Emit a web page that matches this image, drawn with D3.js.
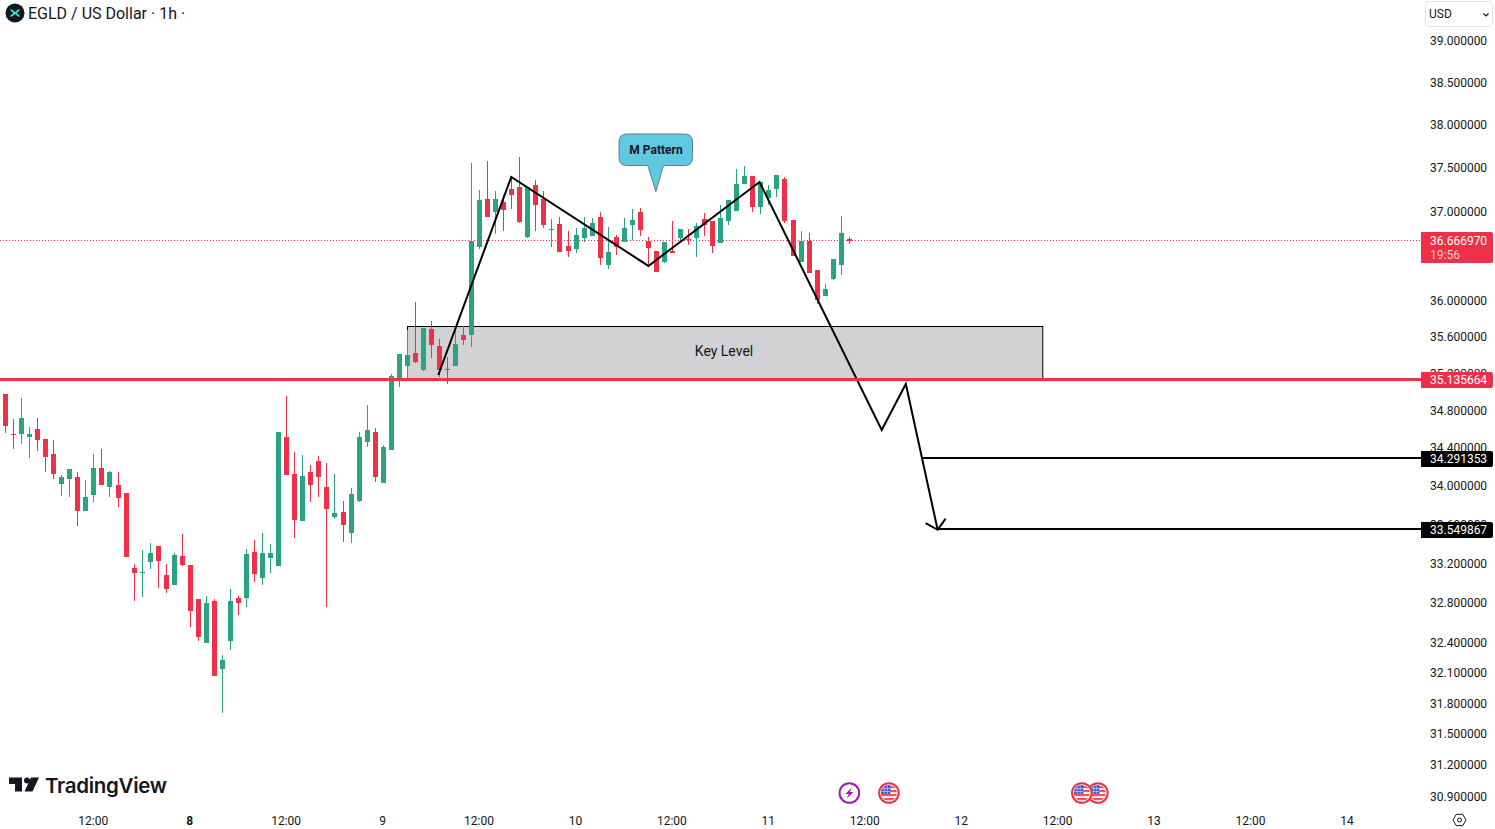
<!DOCTYPE html>
<html><head><meta charset="utf-8">
<style>
html,body{margin:0;padding:0;background:#fff;overflow:hidden}
svg{display:block;font-family:Roboto,sans-serif}
text{fill:#131722}
</style>
<script src="https://cdnjs.cloudflare.com/ajax/libs/d3/7.8.5/d3.min.js"></script>
</head><body><div id="chart"></div>
<script>
const opens=[34.98,34.555,34.555,34.523,34.608,34.502,34.343,34.027,34.079,34.10,33.745,33.911,34.195,33.996,34.017,33.932,33.158,33.106,33.219,33.383,33.086,32.984,33.281,33.189,32.843,32.401,32.823,32.143,32.421,32.853,32.853,33.321,33.055,33.26,33.178,34.523,34.132,33.642,34.153,34.269,33.996,33.683,33.734,33.517,33.849,34.47,34.576,34.038,34.385,35.156,35.286,35.427,35.242,35.69,35.504,35.253,35.286,35.624,35.624,36.603,37.147,36.999,37.113,37.262,37.285,36.716,37.308,37.147,36.795,36.863,36.614,36.58,36.705,36.727,36.942,36.401,36.716,36.659,36.851,36.999,36.671,36.558,36.435,36.558,36.705,36.693,36.705,36.919,36.897,36.648,36.897,37.011,37.32,37.412,37.056,37.159,37.262,37.377,36.908,36.435,36.671,36.345,36.054,36.244,36.401,36.693];
const highs=[34.98,34.715,34.94,34.629,34.725,34.502,34.491,34.122,34.185,34.153,34.069,34.343,34.396,34.164,34.153,33.932,33.199,33.342,33.414,33.383,33.199,33.311,33.507,33.189,32.843,32.873,32.843,32.282,32.944,32.873,33.352,33.445,33.517,33.404,34.576,34.961,34.364,34.332,34.227,34.321,34.248,34.132,33.849,33.985,34.576,34.865,34.618,34.438,35.199,35.416,35.679,35.988,35.701,35.778,35.581,35.384,35.679,35.723,37.562,37.251,37.585,37.24,37.193,37.40,37.631,37.285,37.366,37.24,36.919,36.942,36.784,36.818,36.942,36.931,36.999,36.829,36.739,36.931,37.033,37.045,36.716,36.558,36.659,36.897,36.806,36.806,36.874,36.988,36.897,37.079,37.136,37.493,37.527,37.412,37.343,37.308,37.423,37.40,36.908,36.784,36.761,36.345,36.188,36.468,36.953,36.716];
const lows=[34.565,34.396,34.449,34.30,34.374,34.153,34.079,33.901,33.89,33.589,33.745,33.838,34.017,33.89,33.786,33.271,32.823,32.863,33.148,32.954,32.904,32.984,33.178,32.561,32.421,32.401,32.074,31.71,32.331,32.681,32.762,33.015,32.984,33.106,33.178,34.122,33.466,33.642,33.838,33.89,32.762,33.662,33.424,33.414,33.838,34.417,34.048,34.038,34.385,35.059,35.156,35.318,35.231,35.373,35.166,35.091,35.286,35.515,35.493,36.58,36.942,36.75,36.784,37.033,36.874,36.705,36.784,36.818,36.603,36.547,36.491,36.535,36.659,36.727,36.401,36.356,36.513,36.659,36.682,36.727,36.39,36.323,36.423,36.535,36.659,36.625,36.491,36.727,36.535,36.648,36.851,37.011,37.32,36.999,36.976,37.079,37.17,36.874,36.502,36.435,36.312,35.966,36.054,36.233,36.289,36.637];
const closes=[34.64,34.544,34.725,34.555,34.491,34.311,34.132,34.10,34.185,33.745,33.89,34.195,34.017,34.153,33.88,33.271,33.106,33.117,33.311,33.23,32.944,33.291,33.189,32.722,32.461,32.803,32.074,32.232,32.823,32.803,33.301,33.096,33.311,33.311,34.576,34.122,33.652,34.111,34.017,34.10,33.765,33.724,33.60,33.922,34.523,34.597,34.10,34.417,35.177,35.416,35.405,35.329,35.701,35.515,35.242,35.242,35.526,35.57,36.671,37.136,36.942,37.147,37.022,37.193,36.885,37.285,37.079,36.851,36.806,36.547,36.558,36.739,36.818,36.874,36.479,36.547,36.603,36.818,36.908,36.795,36.591,36.323,36.659,36.535,36.806,36.682,36.84,36.851,36.614,36.931,37.136,37.32,37.412,37.056,37.343,37.251,37.423,36.897,36.502,36.671,36.312,36.01,36.132,36.468,36.761,36.667];

const priceTicks=[39,38.5,38,37.5,37,36,35.6,35.2,34.8,34.4,34,33.6,33.2,32.8,32.4,32.1,31.8,31.5,31.2,30.9];
const timeTickHours=[11,23,35,47,59,71,83,95,107,119,131,143,155,167];
const timeTickLabels=["12:00","8","12:00","9","12:00","10","12:00","11","12:00","12","12:00","13","12:00","14"];

const pathHours=[53.92,63,80.07,93.9,109.1,112.1,116.06];
const pathPrices=[35.188,37.40,36.39,37.343,34.597,35.091,33.55];
const arrowHours=[114.57,116.06,117.05];
const arrowPrices=[33.62,33.55,33.665];

const lastPrice=36.66697, keyLevel=35.135664;
const targetPrices=[34.291353,33.549867];
const targetStartHours=[114.0,116.06];
const boxHours=[50.02,129.08];
const boxPrices=[35.72,35.135664];
const eventFlash=[105];
const eventFlags=[136,134,110];
const countdown="19:56";

const W=1495,H=829,GREEN="#2aa382",RED="#ee3049",AXR=1421;
const x=d3.scaleLinear().domain([0,167]).range([5,1347]);
const y=d3.scaleLog().domain([30.9,39]).range([797,41]);
const svg=d3.select("#chart").append("svg").attr("width",W).attr("height",H);
const defs=svg.append("defs");
defs.append("clipPath").attr("id","flagclip").append("circle").attr("r",8);

// last price dotted line
svg.append("line").attr("x1",0).attr("x2",AXR).attr("y1",240.5).attr("y2",240.5)
 .attr("stroke",RED).attr("stroke-width",1).attr("stroke-dasharray","1 2");

// key level box
svg.append("rect").attr("x",Math.round(x(boxHours[0]))+.5).attr("y",Math.round(y(boxPrices[0]))+.5)
 .attr("width",x(boxHours[1])-x(boxHours[0])).attr("height",Math.round(y(boxPrices[1]))-Math.round(y(boxPrices[0]))-1.5)
 .attr("fill","#d2d2d5").attr("stroke","#000").attr("stroke-width",1);

// candles
const idx=d3.range(opens.length);
const cx=i=>Math.round(x(i));
const cg=svg.append("g");
cg.selectAll(".w").data(idx).join("rect").attr("class","w")
 .attr("x",cx).attr("width",1)
 .attr("y",i=>Math.round(y(highs[i])))
 .attr("height",i=>Math.max(1,Math.round(y(lows[i]))-Math.round(y(highs[i]))))
 .attr("fill",i=>closes[i]>=opens[i]?GREEN:RED);
cg.selectAll(".b").data(idx).join("rect").attr("class","b")
 .attr("x",i=>cx(i)-2).attr("width",5)
 .attr("y",i=>Math.round(y(Math.max(opens[i],closes[i]))))
 .attr("height",i=>Math.max(1,Math.round(y(Math.min(opens[i],closes[i])))-Math.round(y(Math.max(opens[i],closes[i])))))
 .attr("fill",i=>closes[i]>=opens[i]?GREEN:RED);

svg.append("text").attr("x",724).attr("y",351).attr("text-anchor","middle").attr("dominant-baseline","central")
 .attr("font-size",14).text("Key Level");

// hand-drawn path
const ln=d3.line().x(d=>x(d[0])).y(d=>y(d[1]));
svg.append("path").attr("d",ln(pathHours.map((h,i)=>[h,pathPrices[i]])))
 .attr("fill","none").attr("stroke","#000").attr("stroke-width",2).attr("stroke-linejoin","miter");
svg.append("path").attr("d",ln(arrowHours.map((h,i)=>[h,arrowPrices[i]])))
 .attr("fill","none").attr("stroke","#000").attr("stroke-width",2);

// target lines
targetPrices.forEach((p,i)=>{
 svg.append("line").attr("x1",x(targetStartHours[i])).attr("x2",AXR)
  .attr("y1",Math.round(y(p))-1).attr("y2",Math.round(y(p))-1).attr("stroke","#000").attr("stroke-width",2);
});
// key level line
svg.append("line").attr("x1",0).attr("x2",AXR).attr("y1",Math.round(y(keyLevel))-.5).attr("y2",Math.round(y(keyLevel))-.5)
 .attr("stroke",RED).attr("stroke-width",3);

// balloon
const bx0=619,bx1=692.5,by0=134,by1=165.5,r=8;
svg.append("path").attr("d",`M${bx0+r},${by0}H${bx1-r}Q${bx1},${by0} ${bx1},${by0+r}V${by1-r}Q${bx1},${by1} ${bx1-r},${by1}H663.5L655.8,191.5L647.8,${by1}H${bx0+r}Q${bx0},${by1} ${bx0},${by1-r}V${by0+r}Q${bx0},${by0} ${bx0+r},${by0}Z`)
 .attr("fill","#5fc9e3").attr("stroke","#5f7f90").attr("stroke-width",1);
svg.append("text").attr("x",656).attr("y",150).attr("text-anchor","middle").attr("dominant-baseline","central")
 .attr("font-size",12).attr("font-weight",700).text("M Pattern");

// axes
const yAxis=d3.axisRight(y).tickValues(priceTicks).tickSize(0).tickPadding(9).tickFormat(d=>d.toFixed(6));
const ya=svg.append("g").attr("transform",`translate(${AXR},-0.6)`).call(yAxis);
ya.select(".domain").remove();
ya.selectAll("text").attr("font-size",12).attr("font-family","Roboto").style("fill","#131722");

const xAxis=d3.axisBottom(x).tickValues(timeTickHours).tickSize(0).tickPadding(0)
 .tickFormat((d,i)=>timeTickLabels[i]);
const xa=svg.append("g").attr("transform","translate(-0.6,816)").call(xAxis);
xa.select(".domain").remove();
xa.selectAll("text").attr("font-size",12).attr("font-family","Roboto").style("fill","#131722")
 .attr("font-weight",d=>d===23?700:400);

// price badges
function badge(p,fill,hh){
 const yy=Math.round(y(p));
 const top=yy-8;
 svg.append("path").attr("d",`M${AXR},${top}H1491a2,2 0 0 1 2,2V${top+hh-2}a2,2 0 0 1 -2,2H${AXR}Z`).attr("fill",fill);
 svg.append("text").attr("x",1430).attr("y",yy).attr("dominant-baseline","central")
  .attr("font-size",12).style("fill","#fff").text(p.toFixed(6));
}
badge(keyLevel,RED,16);
badge(targetPrices[0],"#000",16);
badge(targetPrices[1],"#000",16);
svg.append("path").attr("d",`M${AXR},232H1491a2,2 0 0 1 2,2V261a2,2 0 0 1 -2,2H${AXR}Z`).attr("fill",RED);
svg.append("text").attr("x",1430).attr("y",241).attr("dominant-baseline","central").attr("font-size",12).style("fill","#fff").text(lastPrice.toFixed(6));
svg.append("text").attr("x",1430).attr("y",255).attr("dominant-baseline","central").attr("font-size",12).style("fill","#fbc2c9").text(countdown);

// header
svg.append("circle").attr("cx",15).attr("cy",13).attr("r",9.5).attr("fill","#131722");
svg.append("path").attr("d","M9.5,9.5L12,9.5L15,12L18,9.5L20.5,9.5L16.7,13L20.5,16.5L18,16.5L15,14L12,16.5L9.5,16.5L13.3,13Z").attr("fill","#23f0d6");
svg.append("text").attr("x",28).attr("y",13).attr("dominant-baseline","central").attr("font-size",16).text("EGLD / US Dollar · 1h ·");

// currency select
svg.append("rect").attr("x",1425.5).attr("y",1.5).attr("width",67).attr("height",25).attr("rx",4).attr("fill","#fff").attr("stroke","#e0e3eb");
svg.append("text").attr("x",1429).attr("y",14).attr("dominant-baseline","central").attr("font-size",12).text("USD");
svg.append("path").attr("d","M1483.5,13.5L1486,16L1488.5,13.5").attr("fill","none").attr("stroke","#131722").attr("stroke-width",1.2);

// TradingView logo
const lg=svg.append("g").attr("fill","#131722");
lg.append("path").attr("d","M9,777.5H22V791.5H15V784H9Z");
lg.append("circle").attr("cx",27).attr("cy",780.5).attr("r",3);
lg.append("path").attr("d","M31,777.5H39L32.5,791.5H24.5Z");
svg.append("text").attr("x",45).attr("y",785).attr("dominant-baseline","central").attr("font-family","Inter,Roboto").attr("font-weight",600).attr("font-size",20.5).attr("letter-spacing",-.3).text("TradingView");

// event markers
eventFlash.forEach(h=>{
 const g=svg.append("g").attr("transform",`translate(${x(h)+.6},793)`);
 g.append("circle").attr("r",9.8).attr("fill","#fff").attr("stroke","#9c1ab1").attr("stroke-width",2);
 g.append("path").attr("d","M2.5,-5.5L-4,1H-0.5L-2.5,5.5L4,-1H0.5Z").attr("fill","#9c1ab1");
});
eventFlags.forEach(h=>{
 const g=svg.append("g").attr("transform",`translate(${x(h)},793)`);
 g.append("circle").attr("r",9.8).attr("fill","#fff").attr("stroke",RED).attr("stroke-width",2);
 const f=g.append("g").attr("clip-path","url(#flagclip)");
 f.append("rect").attr("x",-8).attr("y",-8).attr("width",16).attr("height",16).attr("fill","#fff");
 [-7,-3,1,5].forEach(v=>f.append("rect").attr("x",-8).attr("y",v).attr("width",16).attr("height",2.2).attr("fill","#e8545f"));
 f.append("rect").attr("x",-8).attr("y",-8).attr("width",9.5).attr("height",9).attr("fill","#3f5bd6");
 [-5,-2].forEach(v=>f.append("rect").attr("x",-8).attr("y",v).attr("width",9.5).attr("height",.7).attr("fill","#c6cff5"));
 [-5,-2].forEach(v=>f.append("rect").attr("x",v).attr("y",-8).attr("width",.7).attr("height",9).attr("fill","#c6cff5"));
});

// settings icon
const gear=svg.append("g").attr("transform","translate(1459.5,820)").attr("fill","none").attr("stroke","#131722").attr("stroke-width",1);
gear.append("path").attr("d",d3.range(6).map(k=>(k?"L":"M")+(6.5*Math.cos(k*Math.PI/3)).toFixed(2)+","+(6.5*Math.sin(k*Math.PI/3)).toFixed(2)).join("")+"Z");
gear.append("circle").attr("r",2);
</script></body></html>
